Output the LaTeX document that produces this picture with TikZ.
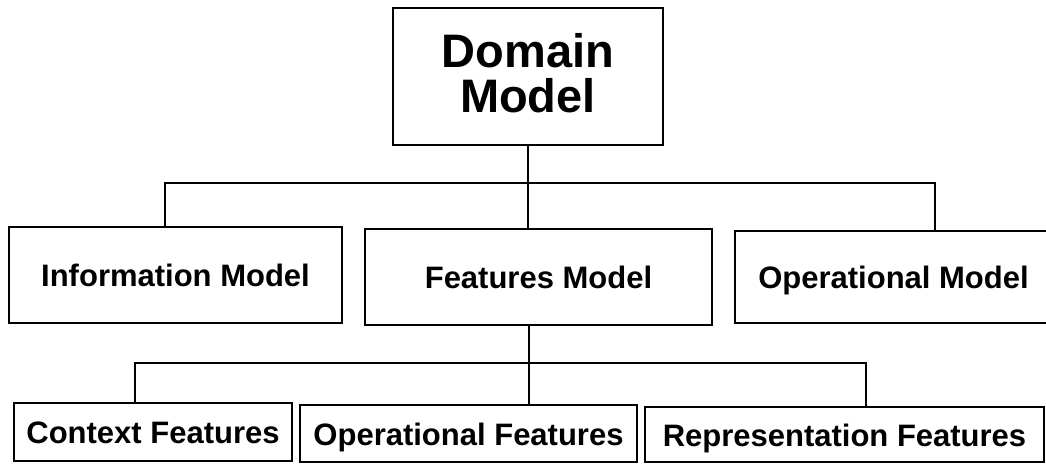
\documentclass[tikz,border=0pt]{standalone}
\usepackage{fontspec}
\setmainfont{Liberation Sans}
\usetikzlibrary{calc}

\tikzset{
    modelbox/.style={draw,line width=1.5pt,rectangle,inner sep=0pt,text height=23pt,text depth=0pt,
                     font=\bfseries\fontsize{31}{31}\selectfont},
    link/.style={line width=1.5pt}
}

\begin{document}
\begin{tikzpicture}[x=1pt,y=-1pt]
        \useasboundingbox (0,0) rectangle (1046,463);
        % 顶层: Domain Model
        \node [draw,line width=1.5pt,inner sep=0pt,minimum width=270pt,minimum height=137pt,align=center,
               text depth=8pt,font=\bfseries\fontsize{47}{45}\selectfont] (dm) at (528,76.5) {Domain\\Model};
        % 第二层
        \node [modelbox,minimum width=333pt,minimum height=96pt] (im) at (175.5,275) {Information Model};
        \node [modelbox,minimum width=347pt,minimum height=96pt] (fm) at (538.5,277) {Features Model};
        \node [modelbox,minimum width=317pt,minimum height=92pt] (om) at (893.5,277) {Operational Model};
        % 第三层
        \node [modelbox,minimum width=278pt,minimum height=58pt] (cf) at (153,432) {Context Features};
        \node [modelbox,minimum width=337pt,minimum height=57pt] (of) at (468.5,433.5) {Operational Features};
        \node [modelbox,minimum width=399pt,minimum height=55pt] (rf) at (844.5,434.5) {Representation Features};
        % 连线: 第一层到第二层
        \coordinate (b1l) at (165,183);
        \coordinate (b1r) at (935,183);
        \draw [link] (dm.south) -- (dm.south |- fm.north);
        \draw [link] (im.north -| b1l) -- (b1l) -- (b1r) -- (om.north -| b1r);
        % 连线: 第二层到第三层
        \coordinate (b2l) at (135,363);
        \coordinate (b2m) at (529,363);
        \coordinate (b2r) at (866,363);
        \draw [link] (b2m |- fm.south) -- (b2m |- of.north);
        \draw [link] (cf.north -| b2l) -- (b2l) -- (b2r) -- (rf.north -| b2r);
\end{tikzpicture}
\end{document}
